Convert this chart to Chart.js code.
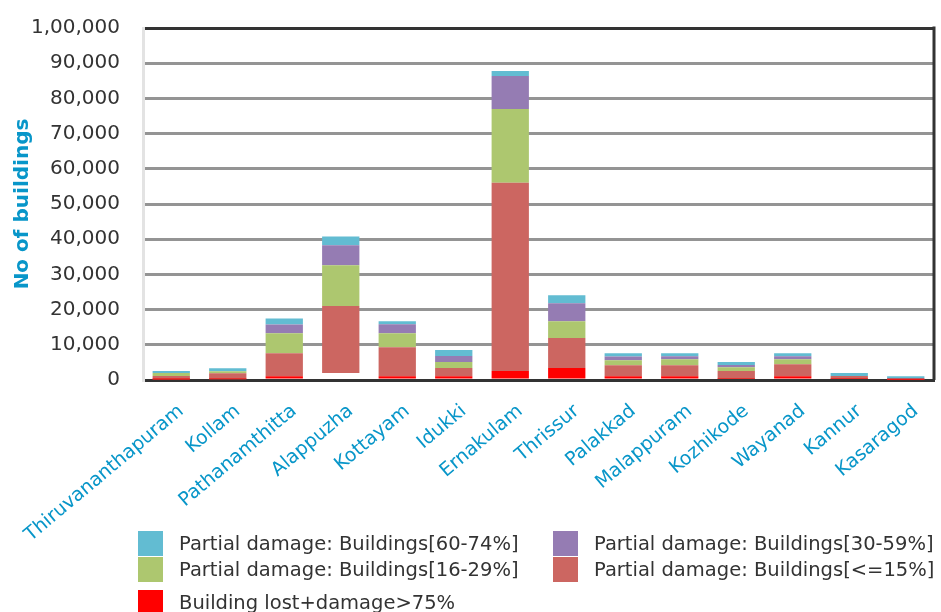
<!DOCTYPE html>
<html>
<head>
<meta charset="utf-8">
<script src="https://cdn.jsdelivr.net/npm/chart.js@4"></script>
<style>
  body { margin: 0; background: #fff; }
  #wrap { position: relative; width: 941px; height: 612px; }
  #legend { position: absolute; left: 138px; top: 531px; width: 800px;
            font: 19.5px "DejaVu Sans", sans-serif; color: #333; }
  .item { position: absolute; height: 25px; line-height: 25px; white-space: nowrap; }
  .box { display: inline-block; width: 25px; height: 25px; vertical-align: top; margin-right: 16px; }
</style>
</head>
<body>
<div id="wrap">
  <canvas id="chart"></canvas>
  <div id="legend"></div>
</div>
<script>
const districts = ['Thiruvananthapuram', 'Kollam', 'Pathanamthitta', 'Alappuzha', 'Kottayam', 'Idukki',
  'Ernakulam', 'Thrissur', 'Palakkad', 'Malappuram', 'Kozhikode', 'Wayanad', 'Kannur', 'Kasaragod'];

const lost75 = [150, 200, 1100, 2000, 1100, 1100, 2550, 3400, 1100, 1100, 250, 1100, 300, 100];
const upto15 = [1000, 1700, 6500, 19000, 8200, 2300, 53500, 8500, 3100, 3100, 2300, 3400, 850, 150];
const p16to29 = [850, 570, 5700, 11600, 4000, 1700, 20950, 4800, 1400, 1700, 1100, 1400, 0, 0];
const p30to59 = [0, 0, 2500, 5650, 2550, 1700, 9340, 5100, 1100, 850, 600, 850, 0, 0];
const p60to74 = [570, 850, 1700, 2550, 850, 1700, 1415, 2260, 900, 850, 850, 850, 850, 850];

const yTicks = [0, 10000, 20000, 30000, 40000, 50000, 60000, 70000, 80000, 90000, 100000];

// indian style grouping: 1,00,000
function inr(v) {
    const s = String(v);
    if (s.length <= 3) return s;
    const rest = s.slice(0, -3).replace(/\B(?=(\d{2})+(?!\d))/g, ',');
    return rest + ',' + s.slice(-3);
}

const blue = '#0896c9';

// the lost part of Alappuzha does not show in the source picture
const lostColors = districts.map(d => d === 'Alappuzha' ? '#ffffff' : '#ff0000');

const datasets = [
    { label: 'Building lost+damage>75%', data: lost75, backgroundColor: lostColors, legendColor: '#ff0000' },
    { label: 'Partial damage: Buildings[<=15%]', data: upto15, backgroundColor: '#cc6661' },
    { label: 'Partial damage: Buildings[16-29%]', data: p16to29, backgroundColor: '#adc76f' },
    { label: 'Partial damage: Buildings[30-59%]', data: p30to59, backgroundColor: '#957cb3' },
    { label: 'Partial damage: Buildings[60-74%]', data: p60to74, backgroundColor: '#62bcd2' }
];

const frame = {
    id: 'frame',
    afterDraw(chart) {
        const { ctx, chartArea } = chart;
        ctx.save();
        ctx.strokeStyle = '#333';
        ctx.lineWidth = 3;
        ctx.beginPath();
        ctx.moveTo(chartArea.right, chartArea.top - 1.5);
        ctx.lineTo(chartArea.right, chartArea.bottom);
        ctx.stroke();
        ctx.restore();
    }
};

const chart = new Chart(document.getElementById('chart'), {
    type: 'bar',
    data: { labels: districts, datasets: datasets },
    plugins: [frame],
    options: {
        responsive: true,
        maintainAspectRatio: false,
        animation: false,
        layout: { padding: { top: 28, right: 7, left: 0, bottom: 0 } },
        datasets: { bar: { categoryPercentage: 1, barPercentage: 0.66 } },
        plugins: {
            legend: { display: false },
            tooltip: { enabled: false }
        },
        scales: {
            x: {
                stacked: true,
                afterFit: s => { s.height = 232; },
                grid: { display: false },
                border: { color: '#333', width: 3 },
                ticks: {
                    color: blue, autoSkip: false, maxRotation: 40, minRotation: 40, padding: 12, labelOffset: 10,
                    font: { family: 'DejaVu Sans', size: 19 }
                }
            },
            y: {
                stacked: true,
                min: 0, max: 100000,
                afterFit: s => { s.width = 143; s.paddingTop = 0; s.paddingBottom = 0; },
                afterBuildTicks: s => { s.ticks = yTicks.map(v => ({ value: v })); },
                border: { color: '#e3e3e3', width: 3 },
                grid: {
                    drawTicks: false, lineWidth: 3,
                    color: c => c.tick && c.tick.value === 100000 ? '#333' : (c.tick && c.tick.value === 0 ? 'rgba(0,0,0,0)' : '#949494')
                },
                ticks: {
                    color: '#333', padding: 23,
                    font: { family: 'DejaVu Sans', size: 20 },
                    callback: v => inr(v)
                },
                title: {
                    display: true, text: 'No of buildings', color: blue, padding: { top: 11, bottom: 4 },
                    font: { family: 'DejaVu Sans', size: 20, weight: 'bold' }
                }
            }
        }
    }
});

// legend in two columns, top row first
const legendEl = document.getElementById('legend');
const order = [4, 3, 2, 1, 0];
const slots = [[0, 0], [415, 0], [0, 26], [415, 26], [0, 59]];
order.forEach((di, i) => {
    const ds = datasets[di];
    const item = document.createElement('div');
    item.className = 'item';
    item.style.left = slots[i][0] + 'px';
    item.style.top = slots[i][1] + 'px';
    const box = document.createElement('span');
    box.className = 'box';
    box.style.background = ds.legendColor || ds.backgroundColor;
    item.appendChild(box);
    item.appendChild(document.createTextNode(ds.label));
    legendEl.appendChild(item);
});
</script>
</body>
</html>
